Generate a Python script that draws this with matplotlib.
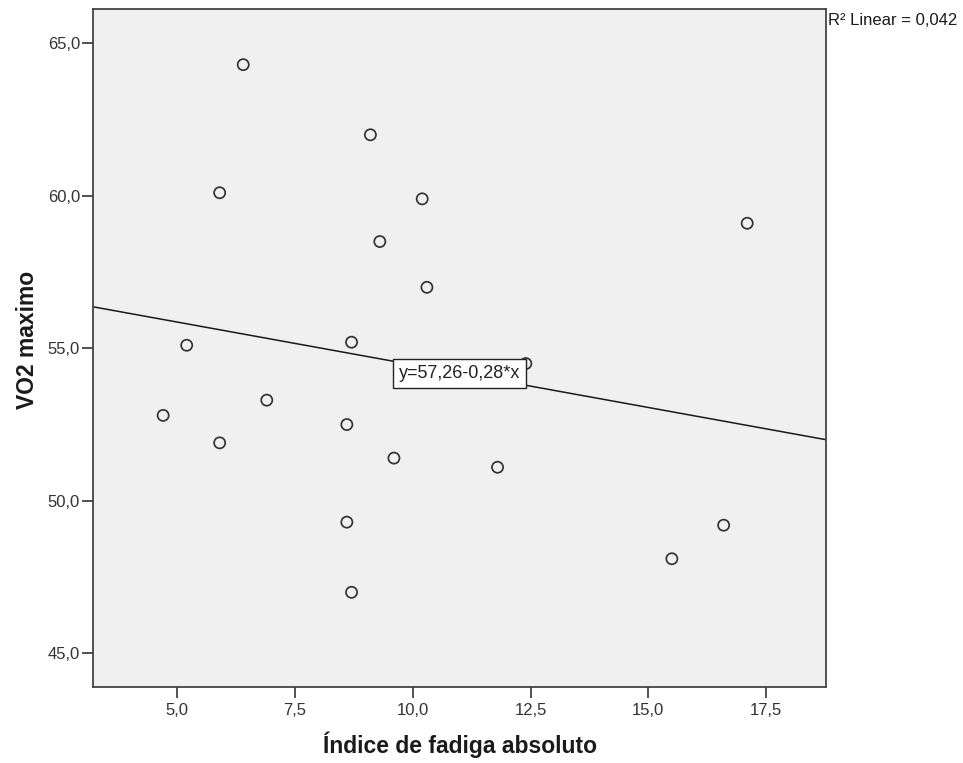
import matplotlib
matplotlib.use("Agg")
import matplotlib.pyplot as plt
import numpy as np

# Data
fadiga = [6.4, 9.1, 5.9, 10.2, 17.1, 9.3, 10.3, 8.7, 5.2, 12.4,
          6.9, 4.7, 8.6, 5.9, 9.6, 11.8, 8.6, 8.7, 15.5, 16.6]
vo2 = [64.3, 62.0, 60.1, 59.9, 59.1, 58.5, 57.0, 55.2, 55.1, 54.5,
       53.3, 52.8, 52.5, 51.9, 51.4, 51.1, 49.3, 47.0, 48.1, 49.2]
fit_intercept = 57.26
fit_slope = -0.28
r2_text = "R² Linear = 0,042"
eq_text = "y=57,26-0,28*x"
x_ticks = [5.0, 7.5, 10.0, 12.5, 15.0, 17.5]
y_ticks = [45.0, 50.0, 55.0, 60.0, 65.0]
x_label = "Índice de fadiga absoluto"
y_label = "VO2 maximo"

W, H = 963, 763
fig = plt.figure(figsize=(W / 100, H / 100), dpi=100)
fig.patch.set_facecolor("white")
ax = fig.add_axes([93.3 / W, (H - 687.3) / H, (826 - 93.3) / W, 678 / H])
ax.set_facecolor("#F0F0F0")

xlim = (3.217, 18.773)
ylim = (43.885, 66.115)
ax.set_xlim(*xlim)
ax.set_ylim(*ylim)

# fit line across the full x range
xl = np.array(xlim)
ax.plot(xl, fit_intercept + fit_slope * xl, color="#1a1a1a", lw=1.1, zorder=2)

ax.scatter(fadiga, vo2, s=64, facecolors="none", edgecolors="#333333",
           linewidths=1.25, zorder=3)

# equation label at the midpoint of the line
xm = (xlim[0] + xlim[1]) / 2
ax.text(xm, fit_intercept + fit_slope * xm, eq_text, ha="center", va="center",
        fontsize=13, family=["Liberation Sans", "DejaVu Sans"],
        color="#222222", zorder=5,
        bbox=dict(boxstyle="square,pad=0.33", facecolor="white",
                  edgecolor="#222222", linewidth=1.0))

tick_font = ["Liberation Sans", "DejaVu Sans"]
ax.set_xticks(x_ticks)
ax.set_yticks(y_ticks)
ax.set_xticklabels([f"{v:.1f}".replace(".", ",") for v in x_ticks],
                   family=tick_font, fontsize=12, color="#333333")
ax.set_yticklabels([f"{v:.1f}".replace(".", ",") for v in y_ticks],
                   family=tick_font, fontsize=12, color="#333333")
ax.tick_params(axis="x", direction="out", length=8, width=1.2,
               color="#333333", pad=3)
ax.tick_params(axis="y", direction="out", length=8, width=1.2,
               color="#333333", pad=1.5)

for sp in ax.spines.values():
    sp.set_color("#444444")
    sp.set_linewidth(1.3)

title_font = ["Liberation Sans", "DejaVu Sans"]
ax.set_xlabel(x_label, family=title_font, fontsize=16.5, fontweight="bold",
              color="#1a1a1a")
ax.xaxis.label.set_va("baseline")
ax.xaxis.set_label_coords(0.5, (687.3 - 753.3) / 678)
ax.set_ylabel(y_label, family=title_font, fontsize=16.5, fontweight="bold",
              color="#1a1a1a")
ax.yaxis.label.set_va("center")
ax.yaxis.set_label_coords((28 - 93.3) / 732.7, (687.3 - 340) / 678)

fig.text(827.5 / W, 1 - 25 / H, r2_text, ha="left", va="baseline",
         fontsize=12, family=tick_font, color="#1a1a1a")

fig.savefig("out.png", dpi=100, facecolor="white")
